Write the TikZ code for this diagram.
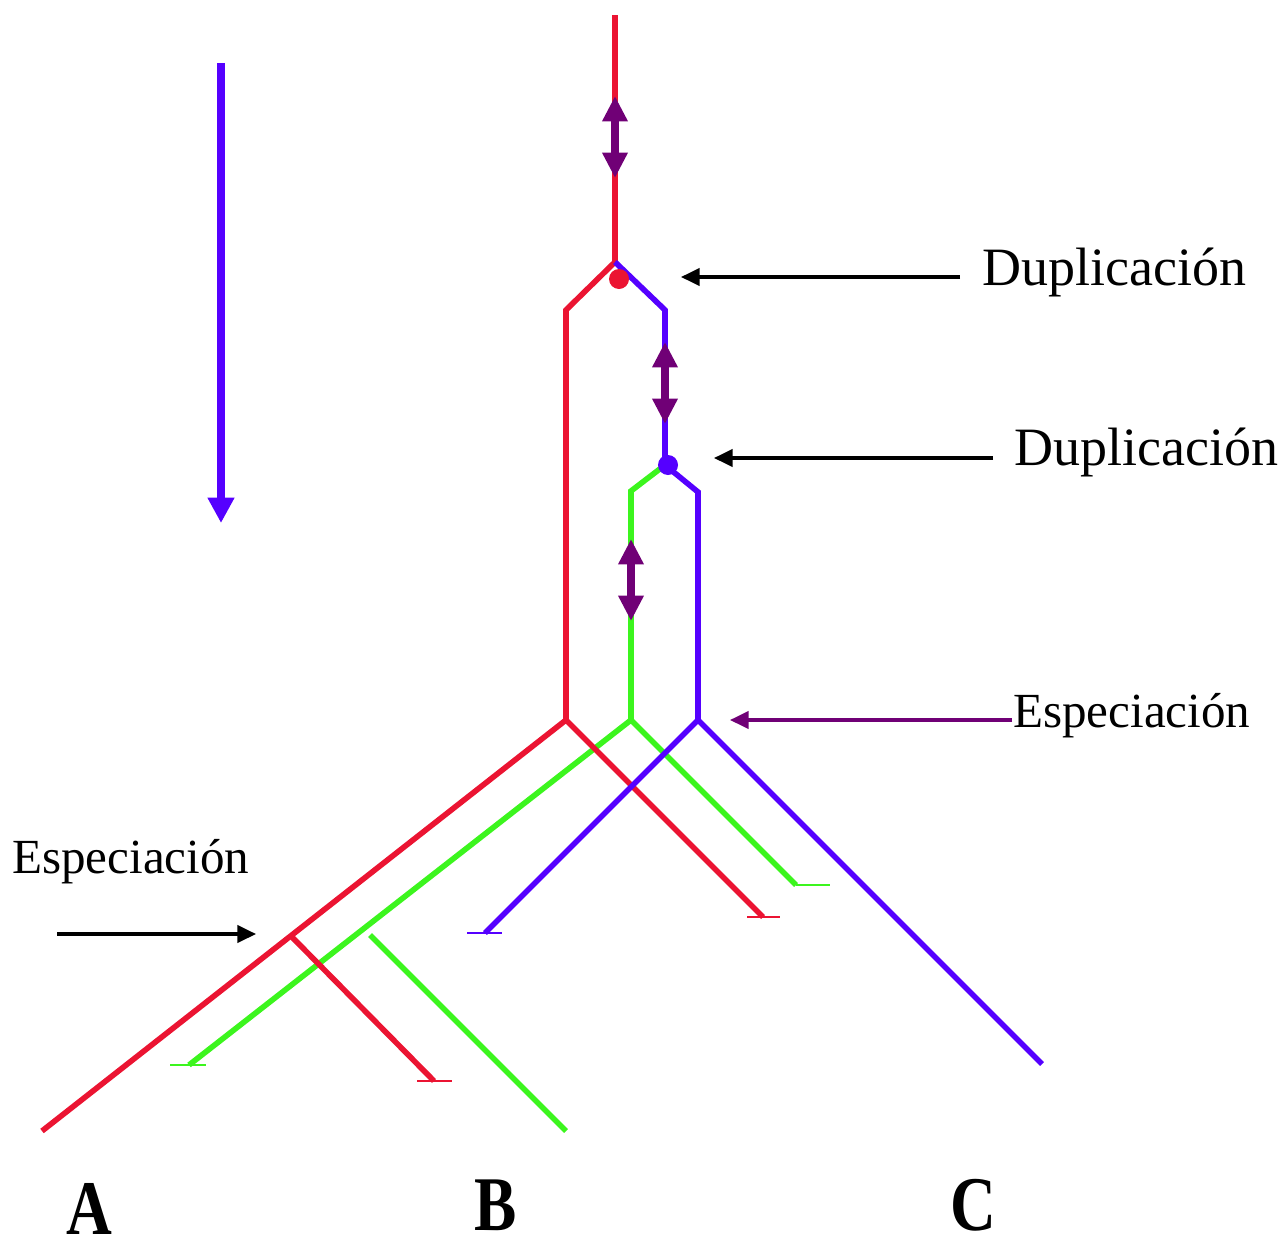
\documentclass[tikz,border=0pt]{standalone}
\usepackage{fontspec}
\setmainfont{Liberation Serif}
\usetikzlibrary{arrows.meta}
\definecolor{rd}{RGB}{235,20,50}
\definecolor{bl}{RGB}{85,0,255}
\definecolor{gr}{RGB}{60,245,30}
\definecolor{pu}{RGB}{112,0,118}
\begin{document}
\begin{tikzpicture}[x=0.75pt,y=-0.75pt,
  branch/.style={line width=4.2pt,line join=miter},
  tick/.style={line width=1.6pt},
  dbl/.style={pu,line width=5.6pt,{Triangle[width=18pt,length=19pt]}-{Triangle[width=18pt,length=19pt]}},
  blk/.style={black,line width=2.5pt,-{Triangle[width=13pt,length=14pt]}},
  lbl/.style={inner sep=0pt,anchor=base west},
  dup/.style={lbl,font=\fontsize{40.5}{48}\selectfont},
  esp/.style={lbl,font=\fontsize{36.8}{44}\selectfont},
  sp/.style={inner sep=0pt,anchor=base,xscale=0.82,font=\fontsize{58}{62}\selectfont\bfseries}]
\useasboundingbox (0,0) rectangle (1286,1253);
% tree coordinates
\coordinate (r0) at (615,15);
\coordinate (r1) at (615,262);
\coordinate (r2) at (566,310);
\coordinate (r3) at (566,720);
\coordinate (rA) at (42,1131);
\coordinate (rB) at (763,917);
\coordinate (rs) at (290,935);
\coordinate (rs2) at (434,1081);
\coordinate (b1) at (665,310);
\coordinate (b2) at (665,465);
\coordinate (b3) at (698,492);
\coordinate (b4) at (698,720);
\coordinate (bC) at (1042,1064);
\coordinate (bB) at (485,933);
\coordinate (g1) at (631,491);
\coordinate (g2) at (631,720);
\coordinate (gA) at (189,1065);
\coordinate (gB) at (796,885);
\coordinate (gB2) at (830,885);
\coordinate (gs) at (370,935);
\coordinate (gs2) at (566,1131);
% tick ends
\coordinate (t1a) at (747,917); \coordinate (t1b) at (780,917);
\coordinate (t2a) at (417,1081); \coordinate (t2b) at (452,1081);
\coordinate (t3a) at (467,933); \coordinate (t3b) at (502,933);
\coordinate (t4a) at (170,1065); \coordinate (t4b) at (206,1065);
% green
\draw[branch,gr] (b2) -- (g1) -- (g2) -- (gA);
\draw[branch,gr] (g2) -- (gB);
\draw[tick,gr] (gB) -- (gB2);
\draw[branch,gr] (gs) -- (gs2);
\draw[tick,gr] (t4a) -- (t4b);
% red
\draw[branch,rd] (r0) -- (r1) -- (r2) -- (r3) -- (rA);
\draw[branch,rd] (r3) -- (rB);
\draw[branch,rd] (rs) -- (rs2);
\draw[tick,rd] (t1a) -- (t1b);
\draw[tick,rd] (t2a) -- (t2b);
% blue
\draw[branch,bl] (r1) -- (b1) -- (b2) -- (b3) -- (b4) -- (bC);
\draw[branch,bl] (b4) -- (bB);
\draw[tick,bl] (t3a) -- (t3b);
% duplication dots
\node[circle,fill=rd,inner sep=0pt,minimum size=15pt] (dotr) at (619,279) {};
\node[circle,fill=bl,inner sep=0pt,minimum size=15pt] (dotb) at (668,465) {};
% double arrows
\coordinate (da1) at (615,96); \coordinate (db1) at (615,178);
\coordinate (da2) at (665,342); \coordinate (db2) at (665,424);
\coordinate (da3) at (631,539); \coordinate (db3) at (631,621);
\draw[dbl] (da1) -- (db1);
\draw[dbl] (da2) -- (db2);
\draw[dbl] (da3) -- (db3);
% time arrow
\coordinate (ta) at (221,63); \coordinate (tb) at (221,523);
\draw[bl,line width=5.4pt,-{Triangle[width=19pt,length=19pt]}] (ta) -- (tb);
% labels
\node[dup] (d1) at (982,285) {Duplicación};
\node[dup] (d2) at (1014,465) {Duplicación};
\node[esp] (e1) at (1013,727) {Especiación};
\node[esp] (e2) at (12,873) {Especiación};
\node[sp] (A) at (89,1234) {A};
\node[sp] (B) at (496,1230) {B};
\node[sp] (C) at (973,1230) {C};
% label arrows
\coordinate (a1s) at (960,277); \coordinate (a1e) at (681,277);
\coordinate (a2s) at (993,458); \coordinate (a2e) at (714,458);
\coordinate (a3s) at (1012,720); \coordinate (a3e) at (730,720);
\coordinate (a4s) at (57,934); \coordinate (a4e) at (256,934);
\draw[blk] (a1s) -- (a1e);
\draw[blk] (a2s) -- (a2e);
\draw[blk,pu] (a3s) -- (a3e);
\draw[blk] (a4s) -- (a4e);
\end{tikzpicture}
\end{document}
